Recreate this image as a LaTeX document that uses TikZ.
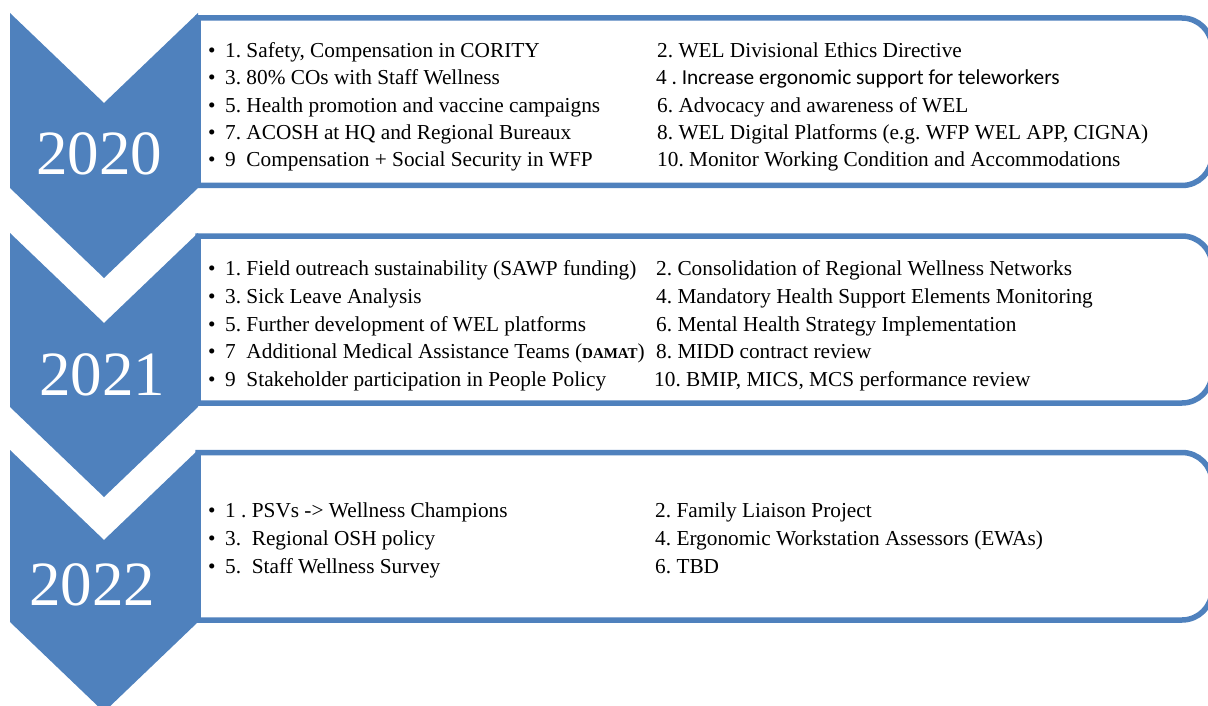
\documentclass[tikz,border=0pt]{standalone}
\usepackage{fontspec}
\setmainfont{Liberation Serif}
\newfontfamily\calibri{Carlito}
\usetikzlibrary{positioning}
\definecolor{chevblue}{HTML}{4F81BD}
\newcommand{\bul}{\makebox[17pt][l]{\textbullet}}
\frenchspacing
\tikzset{
chevron/.style={ % Blue down-pointing year chevrons
fill=chevblue,
draw=none},
itembox/.style={ % Frame round each year's list
draw=chevblue,
line width=5.5pt,
fill=white},
year/.style={
anchor=base west,
inner sep=0pt,
text=white,
font=\fontsize{63}{63}\selectfont},
item/.style={
anchor=base west,
inner sep=0pt,
font=\fontsize{21.3}{25}\selectfont}}

\begin{document}
\begin{tikzpicture}[x=1pt, y=-1pt]
	\useasboundingbox (0,0) rectangle (1208,706);
	% frames, square on the left, rounded on the right
	\draw[itembox] (198,18) -- (1182,18) arc (-90:0:30) -- (1212,155.5) arc (0:90:30) -- (198,185.5) -- cycle;
	\draw[itembox] (198,236) -- (1182,236) arc (-90:0:30) -- (1212,373) arc (0:90:30) -- (198,403) -- cycle;
	\draw[itembox] (198,452.5) -- (1182,452.5) arc (-90:0:30) -- (1212,590) arc (0:90:30) -- (198,620) -- cycle;
	% chevrons
	\fill[chevron] (10,13) -- (104,103) -- (198,13) -- (198,188) -- (104,278) -- (10,188) -- cycle;
	\fill[chevron] (10,233) -- (104,323) -- (198,233) -- (198,407) -- (104,497) -- (10,407) -- cycle;
	\fill[chevron] (10,450) -- (104,540) -- (198,450) -- (198,622) -- (104,712) -- (10,622) -- cycle;
	\node[year] (y2020) at (36,175) {2020};
	\node[year] (y2021) at (39,395) {2021};
	\node[year] (y2022) at (29,605) {2022};
	% 2020
	\node[item] (a1) at (208,58) {\bul 1. Safety, Compensation in CORITY};
	\node[item] (a3) at (208,85) {\bul 3. 80\% COs with Staff Wellness};
	\node[item] (a5) at (208,113) {\bul 5. Health promotion and vaccine campaigns};
	\node[item] (a7) at (208,140) {\bul 7. ACOSH at HQ and Regional Bureaux};
	\node[item] (a9) at (208,167) {\bul 9~~Compensation + Social Security in WFP};
	\node[item] (a2) at (657,58) {2. WEL Divisional Ethics Directive};
	\node[item] (a4) at (656,85) {4{\calibri\ . Increase ergonomic support for teleworkers}};
	\node[item] (a6) at (657,113) {6. Advocacy and awareness of WEL};
	\node[item] (a8) at (657,140) {8. WEL Digital Platforms (e.g. WFP WEL APP, CIGNA)};
	\node[item] (a10) at (657,167) {10. Monitor Working Condition and Accommodations};
	% 2021
	\node[item] (b1) at (208,275) {\bul 1. Field outreach sustainability (SAWP funding)};
	\node[item] (b3) at (208,303) {\bul 3. Sick Leave Analysis};
	\node[item] (b5) at (208,331) {\bul 5. Further development of WEL platforms};
	\node[item] (b7) at (208,358) {\bul 7~~Additional Medical Assistance Teams ({\fontsize{15}{18}\selectfont\bfseries DAMAT})};
	\node[item] (b9) at (208,386) {\bul 9~~Stakeholder participation in People Policy};
	\node[item] (b2) at (656,275) {2. Consolidation of Regional Wellness Networks};
	\node[item] (b4) at (656,303) {4. Mandatory Health Support Elements Monitoring};
	\node[item] (b6) at (656,331) {6. Mental Health Strategy Implementation};
	\node[item] (b8) at (656,358) {8. MIDD contract review};
	\node[item] (b10) at (654,386) {10. BMIP, MICS, MCS performance review};
	% 2022
	\node[item] (c1) at (208,517) {\bul 1~. PSVs -> Wellness Champions};
	\node[item] (c3) at (208,545) {\bul 3.~~Regional OSH policy};
	\node[item] (c5) at (208,573) {\bul 5.~~Staff Wellness Survey};
	\node[item] (c2) at (655,517) {2. Family Liaison Project};
	\node[item] (c4) at (655,545) {4. Ergonomic Workstation Assessors (EWAs)};
	\node[item] (c6) at (655,573) {6. TBD};
\end{tikzpicture}
\end{document}
